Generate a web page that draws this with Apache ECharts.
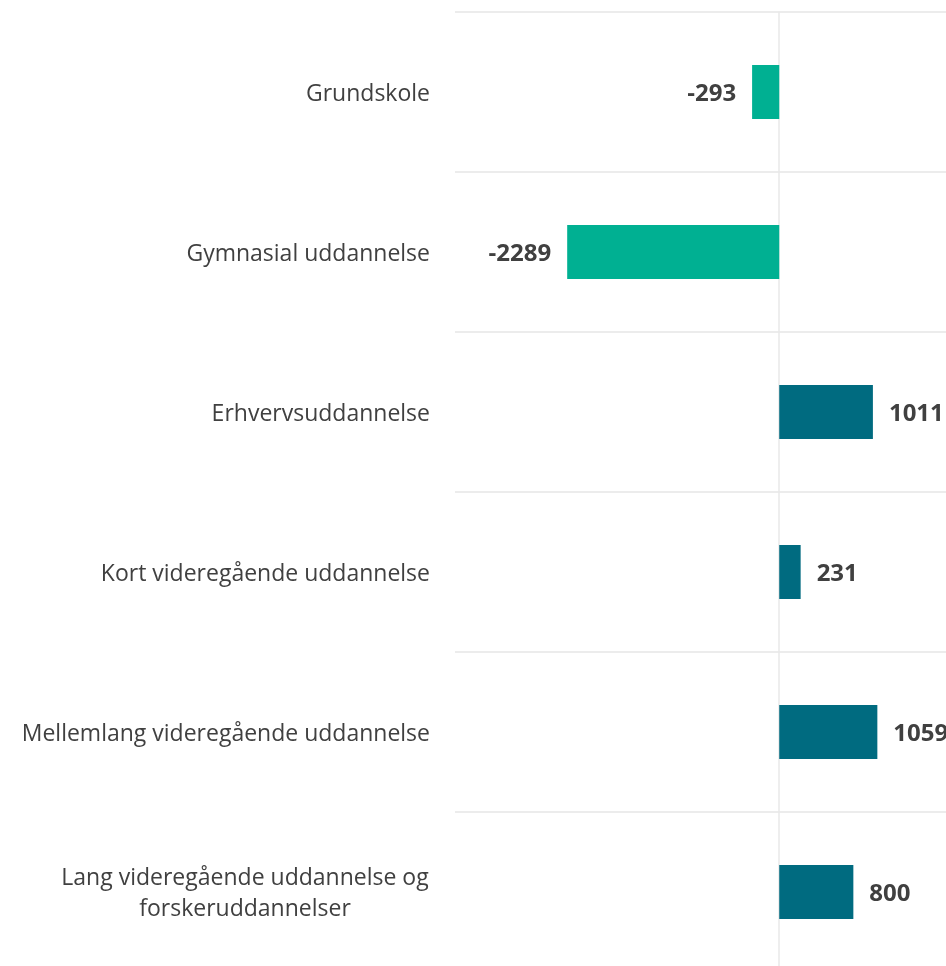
<!DOCTYPE html>
<html><head><meta charset="utf-8">
<script src="https://cdn.jsdelivr.net/npm/echarts@6/dist/echarts.min.js"></script>
<style>html,body{margin:0;padding:0;background:#fff}#c{width:946px;height:966px}</style>
</head><body><div id="c"></div>
<script>
const categories = ["Grundskole","Gymnasial uddannelse","Erhvervsuddannelse","Kort videregående uddannelse","Mellemlang videregående uddannelse","Lang videregående uddannelse og\nforskeruddannelser"];
const values = [-293,-2289,1011,231,1059,800];
const negColor = "#00B092";
const posColor = "#006B80";
const FONT = 'Open Sans';
const chart = echarts.init(document.getElementById('c'));
chart.setOption({
  animation:false,
  grid:{left:455,width:491,top:12,height:960,containLabel:false,outerBoundsMode:'none'},
  xAxis:{type:'value',min:-3500,max:1800,axisLabel:{show:false},splitLine:{show:false},axisLine:{show:false},axisTick:{show:false}},
  yAxis:{type:'category',inverse:true,data:categories,
    axisLine:{onZero:true,lineStyle:{color:'#e8e8e8',width:1.5}},
    axisTick:{show:false},
    splitLine:{show:true,lineStyle:{color:'#e6e6e6',width:1.5}},
    axisLabel:{margin:25,fontFamily:FONT,fontSize:23,color:'#404040',align:'right',padding:[4,0,0,0],
      formatter:function(v){
        if(v.indexOf('\n')>=0){return v.split('\n').map(s=>'{c|'+s+'}').join('\n');}
        return v;
      },
      rich:{c:{width:370,align:'center',fontFamily:FONT,fontSize:23,color:'#404040',lineHeight:31}}
    }
  },
  series:[{type:'bar',barWidth:54,
    data:values.map(v=>({value:v,itemStyle:{color:v<0?negColor:posColor},
      label:{show:true,position:v<0?'left':'right',distance:16,offset:[0,2],formatter:String(v),fontFamily:FONT,fontWeight:'bold',fontSize:24,color:'#404040'}}))
  }]
});
</script></body></html>
